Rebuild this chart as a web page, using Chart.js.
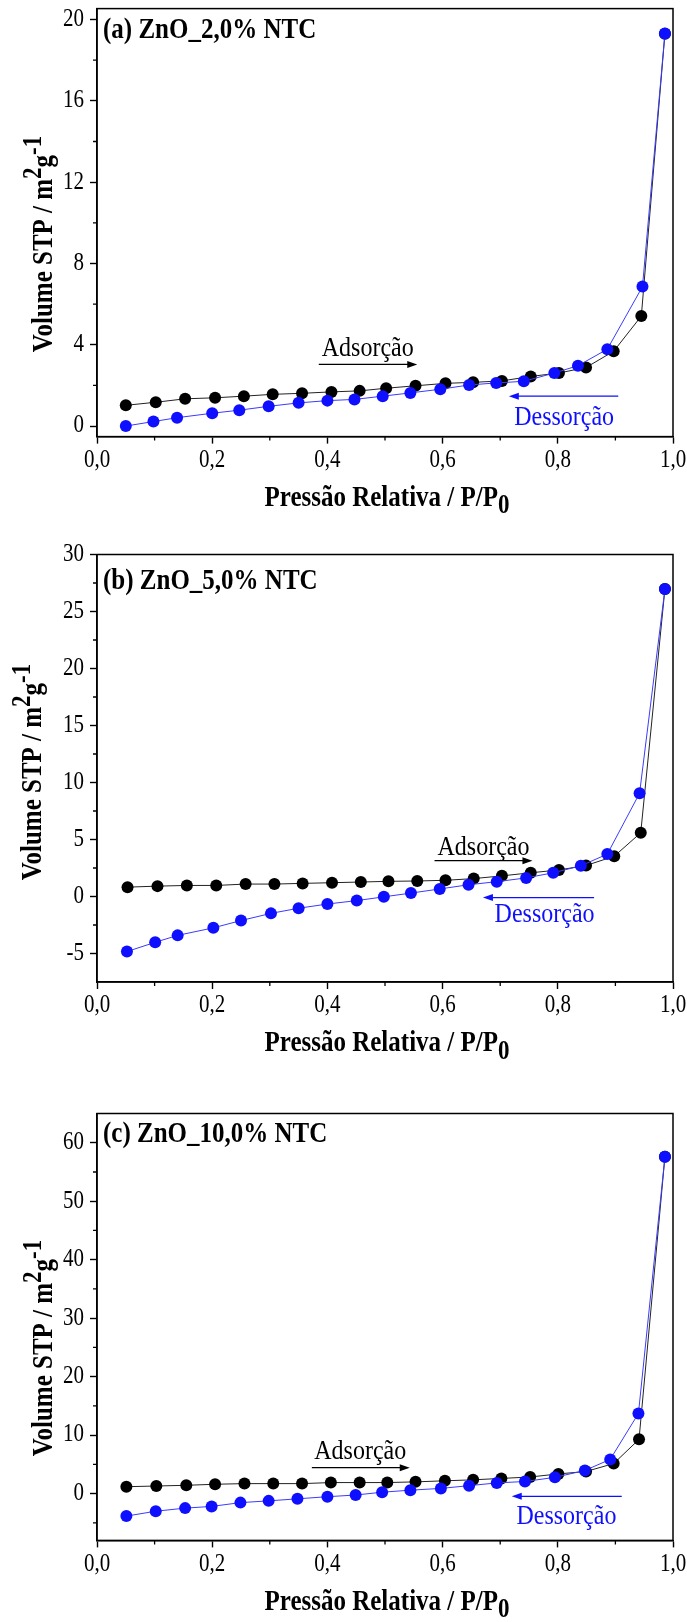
<!DOCTYPE html>
<html>
<head>
<meta charset="utf-8">
<script src="https://cdn.jsdelivr.net/npm/chart.js@4.4.0/dist/chart.umd.min.js"></script>
<style>
  body { margin: 0; background: #fff; width: 687px; height: 1622px; overflow: hidden; }
  .panel { position: absolute; left: 0; }
</style>
</head>
<body>
<div class="panel" style="top:0px"><canvas id="chartA" width="687" height="540"></canvas></div>
<div class="panel" style="top:540px"><canvas id="chartB" width="687" height="540"></canvas></div>
<div class="panel" style="top:1080px"><canvas id="chartC" width="687" height="542"></canvas></div>
<script>
// tick labels
const xTicks = [0, 0.2, 0.4, 0.6, 0.8, 1.0];
const xMinor = [0.1, 0.3, 0.5, 0.7, 0.9];
const yTicksA = [0, 4, 8, 12, 16, 20];
const yMinorA = [2, 6, 10, 14, 18];
const yTicksB = [-5, 0, 5, 10, 15, 20, 25, 30];
const yMinorB = [-2.5, 2.5, 7.5, 12.5, 17.5, 22.5, 27.5];
const yTicksC = [0, 10, 20, 30, 40, 50, 60];
const yMinorC = [-5, 5, 15, 25, 35, 45, 55];

// (a) ZnO_2,0% NTC
const adsXA = [0.050, 0.102, 0.153, 0.205, 0.255, 0.305, 0.356, 0.407, 0.456, 0.502, 0.553, 0.605, 0.653, 0.703, 0.753, 0.802, 0.849, 0.897, 0.945, 0.986];
const adsYA = [1.02, 1.17, 1.34, 1.39, 1.47, 1.56, 1.61, 1.68, 1.73, 1.86, 1.98, 2.10, 2.15, 2.22, 2.44, 2.61, 2.88, 3.68, 5.41, 19.30];
const desXA = [0.050, 0.098, 0.139, 0.200, 0.247, 0.298, 0.350, 0.400, 0.447, 0.496, 0.544, 0.596, 0.646, 0.693, 0.741, 0.794, 0.835, 0.886, 0.947, 0.986];
const desYA = [0.00, 0.22, 0.41, 0.63, 0.78, 0.97, 1.14, 1.25, 1.31, 1.47, 1.63, 1.81, 2.02, 2.12, 2.20, 2.61, 2.97, 3.78, 6.86, 19.32];

// (b) ZnO_5,0% NTC
const adsXB = [0.053, 0.105, 0.156, 0.207, 0.258, 0.308, 0.357, 0.408, 0.458, 0.506, 0.556, 0.605, 0.654, 0.703, 0.753, 0.802, 0.849, 0.898, 0.944, 0.986];
const adsYB = [0.82, 0.91, 0.97, 0.97, 1.09, 1.09, 1.15, 1.21, 1.27, 1.33, 1.36, 1.42, 1.57, 1.81, 2.08, 2.33, 2.72, 3.53, 5.59, 26.98];
const desXB = [0.052, 0.101, 0.140, 0.202, 0.250, 0.302, 0.350, 0.400, 0.451, 0.498, 0.545, 0.595, 0.645, 0.694, 0.745, 0.792, 0.840, 0.886, 0.942, 0.986];
const desYB = [-4.83, -4.02, -3.41, -2.75, -2.11, -1.48, -1.03, -0.66, -0.36, -0.03, 0.30, 0.66, 1.03, 1.30, 1.63, 2.08, 2.69, 3.72, 9.06, 26.98];

// (c) ZnO_10,0% NTC
const adsXC = [0.051, 0.103, 0.155, 0.205, 0.256, 0.306, 0.356, 0.406, 0.456, 0.504, 0.553, 0.604, 0.653, 0.702, 0.752, 0.801, 0.849, 0.897, 0.941, 0.986];
const adsYC = [1.18, 1.30, 1.42, 1.60, 1.71, 1.71, 1.71, 1.89, 1.89, 1.89, 2.01, 2.19, 2.36, 2.60, 2.84, 3.37, 3.78, 5.14, 9.28, 57.6];
const desXC = [0.051, 0.102, 0.153, 0.199, 0.249, 0.298, 0.348, 0.400, 0.449, 0.495, 0.544, 0.597, 0.646, 0.694, 0.743, 0.795, 0.847, 0.891, 0.940, 0.986];
const desYC = [-3.84, -3.01, -2.48, -2.19, -1.54, -1.24, -0.89, -0.53, -0.24, 0.24, 0.59, 0.89, 1.36, 1.83, 2.07, 2.78, 3.96, 5.85, 13.71, 57.6];

const SERIF = '"Liberation Serif", "Times New Roman", serif';
const BLUE = '#0f0fff';
const TALL = 1.15; // the original lettering is taller than plain Times

const toPoints = (xs, ys) => xs.map((x, i) => ({ x: x, y: ys[i] }));

function text(ctx, str, x, y) {
    ctx.save();
    ctx.translate(x, y);
    ctx.scale(1, TALL);
    ctx.fillText(str, 0, 0);
    ctx.restore();
}

function arrow(ctx, x1, x2, y, color) {
    const dir = x2 > x1 ? 1 : -1;
    ctx.strokeStyle = color;
    ctx.fillStyle = color;
    ctx.lineWidth = 1.2;
    ctx.beginPath();
    ctx.moveTo(x1, y);
    ctx.lineTo(x2 - dir * 8, y);
    ctx.stroke();
    ctx.beginPath();
    ctx.moveTo(x2, y);
    ctx.lineTo(x2 - dir * 10, y - 3.5);
    ctx.lineTo(x2 - dir * 10, y + 3.5);
    ctx.closePath();
    ctx.fill();
}

// parts: [text, size, dy]; centred on (0,0) of the current transform
function drawParts(ctx, parts) {
    let w = 0;
    parts.forEach(p => { ctx.font = 'bold ' + p[1] + 'px ' + SERIF; w += ctx.measureText(p[0]).width; });
    let cx = -w / 2;
    ctx.textAlign = 'left';
    parts.forEach(p => {
        ctx.font = 'bold ' + p[1] + 'px ' + SERIF;
        ctx.fillText(p[0], cx, p[2]);
        cx += ctx.measureText(p[0]).width;
    });
}

function makeChart(id, p) {
    const canvas = document.getElementById(id);
    const H = canvas.height;

    const decor = {
        id: 'decor',
        afterDraw(chart) {
            const ctx = chart.ctx;
            const a = chart.chartArea;
            const xs = chart.scales.x, ys = chart.scales.y;
            ctx.save();
            // frame
            ctx.strokeStyle = '#000';
            ctx.lineWidth = 1.5;
            ctx.strokeRect(a.left, a.top, a.right - a.left, a.bottom - a.top);
            // minor ticks
            ctx.lineWidth = 1.3;
            ctx.beginPath();
            xMinor.forEach(v => {
                const px = xs.getPixelForValue(v);
                ctx.moveTo(px, a.bottom); ctx.lineTo(px, a.bottom + 4);
            });
            p.yMinor.forEach(v => {
                const py = ys.getPixelForValue(v);
                ctx.moveTo(a.left, py); ctx.lineTo(a.left - 4, py);
            });
            ctx.stroke();

            ctx.fillStyle = '#000';
            ctx.textBaseline = 'middle';

            // tick labels
            ctx.font = '21px ' + SERIF;
            ctx.textAlign = 'center';
            xTicks.forEach(v => text(ctx, v.toFixed(1).replace('.', ','), xs.getPixelForValue(v), a.bottom + 24));
            ctx.textAlign = 'right';
            p.yTicks.forEach(v => text(ctx, String(v), a.left - 13, ys.getPixelForValue(v)));

            // panel label
            ctx.textAlign = 'left';
            ctx.font = 'bold 25px ' + SERIF;
            text(ctx, p.label, 103, a.top + p.labelDy);

            // x title
            ctx.save();
            ctx.translate((a.left + a.right) / 2 + 2, a.bottom + 62);
            ctx.scale(1, TALL);
            drawParts(ctx, [['Pressão Relativa / P/P', 25, 0], ['0', 23, 7]]);
            ctx.restore();

            // y title
            ctx.save();
            ctx.translate(p.yTitleX, p.yTitleY);
            ctx.rotate(-Math.PI / 2);
            ctx.scale(1, TALL);
            drawParts(ctx, [['Volume STP / m', 25, 0], ['2', 23, -9], ['g', 25, 0], ['-1', 23, -9]]);
            ctx.restore();

            // annotations
            ctx.font = '24px ' + SERIF;
            ctx.textAlign = 'center';
            const ad = p.ads, de = p.des;
            ctx.fillStyle = '#000';
            text(ctx, 'Adsorção', xs.getPixelForValue(ad.tx), ys.getPixelForValue(ad.ty));
            arrow(ctx, xs.getPixelForValue(ad.x1), xs.getPixelForValue(ad.x2), ys.getPixelForValue(ad.ay), '#000');
            ctx.fillStyle = BLUE;
            text(ctx, 'Dessorção', xs.getPixelForValue(de.tx), ys.getPixelForValue(de.ty));
            arrow(ctx, xs.getPixelForValue(de.x1), xs.getPixelForValue(de.x2), ys.getPixelForValue(de.ay), BLUE);
            ctx.restore();
        }
    };

    return new Chart(canvas.getContext('2d'), {
        type: 'scatter',
        data: {
            datasets: [
                {
                    label: 'Dessorção',
                    data: toPoints(p.desX, p.desY),
                    showLine: true,
                    borderColor: '#3a3aff',
                    borderWidth: 1,
                    pointRadius: 6,
                    pointBackgroundColor: BLUE,
                    pointBorderColor: BLUE,
                    pointBorderWidth: 0,
                    clip: false,
                    order: 1
                },
                {
                    label: 'Adsorção',
                    data: toPoints(p.adsX, p.adsY),
                    showLine: true,
                    borderColor: '#222',
                    borderWidth: 1,
                    pointRadius: 6,
                    pointBackgroundColor: '#000',
                    pointBorderColor: '#000',
                    pointBorderWidth: 0,
                    clip: false,
                    order: 2
                }
            ]
        },
        options: {
            responsive: false,
            animation: false,
            events: [],
            layout: { padding: { top: p.top, right: 14, left: 0, bottom: 0 } },
            plugins: { legend: { display: false }, tooltip: { enabled: false } },
            scales: {
                x: {
                    type: 'linear',
                    min: 0,
                    max: 1,
                    afterBuildTicks: s => { s.ticks = xTicks.map(v => ({ value: v })); },
                    afterFit: s => { s.height = H - p.bottom; s.paddingLeft = 0; s.paddingRight = 0; },
                    ticks: { display: false, autoSkip: false },
                    grid: { drawOnChartArea: false, tickLength: 7, tickColor: '#000', tickWidth: 1.4 },
                    border: { color: '#000', width: 1.5 }
                },
                y: {
                    type: 'linear',
                    min: p.yMin,
                    max: p.yMax,
                    afterBuildTicks: s => { s.ticks = p.yTicks.map(v => ({ value: v })); },
                    afterFit: s => { s.width = 97; s.paddingTop = 0; s.paddingBottom = 0; },
                    ticks: { display: false, autoSkip: false },
                    grid: { drawOnChartArea: false, tickLength: 7, tickColor: '#000', tickWidth: 1.4 },
                    border: { color: '#000', width: 1.5 }
                }
            }
        },
        plugins: [decor]
    });
}

makeChart('chartA', {
    adsX: adsXA, adsY: adsYA, desX: desXA, desY: desYA,
    yMin: -0.52, yMax: 20.54, yTicks: yTicksA, yMinor: yMinorA,
    top: 8.6, bottom: 436.6,
    label: '(a) ZnO_2,0% NTC', labelDy: 22,
    yTitleX: 45, yTitleY: 244,
    ads: { tx: 0.47, ty: 3.8, x1: 0.385, x2: 0.556, ay: 3.03 },
    des: { tx: 0.811, ty: 0.42, x1: 0.905, x2: 0.715, ay: 1.47 }
});

makeChart('chartB', {
    adsX: adsXB, adsY: adsYB, desX: desXB, desY: desYB,
    yMin: -7.5, yMax: 30, yTicks: yTicksB, yMinor: yMinorB,
    top: 14.5, bottom: 442,
    label: '(b) ZnO_5,0% NTC', labelDy: 27,
    yTitleX: 34, yTitleY: 232,
    ads: { tx: 0.671, ty: 4.29, x1: 0.586, x2: 0.756, ay: 3.14 },
    des: { tx: 0.777, ty: -1.57, x1: 0.863, x2: 0.670, ay: -0.09 }
});

makeChart('chartC', {
    adsX: adsXC, adsY: adsYC, desX: desXC, desY: desYC,
    yMin: -8, yMax: 65, yTicks: yTicksC, yMinor: yMinorC,
    top: 33.5, bottom: 460.4,
    label: '(c) ZnO_10,0% NTC', labelDy: 21,
    yTitleX: 45, yTitleY: 268,
    ads: { tx: 0.457, ty: 7.2, x1: 0.373, x2: 0.543, ay: 4.43 },
    des: { tx: 0.815, ty: -4.0, x1: 0.911, x2: 0.720, ay: -0.47 }
});
</script>
</body>
</html>
